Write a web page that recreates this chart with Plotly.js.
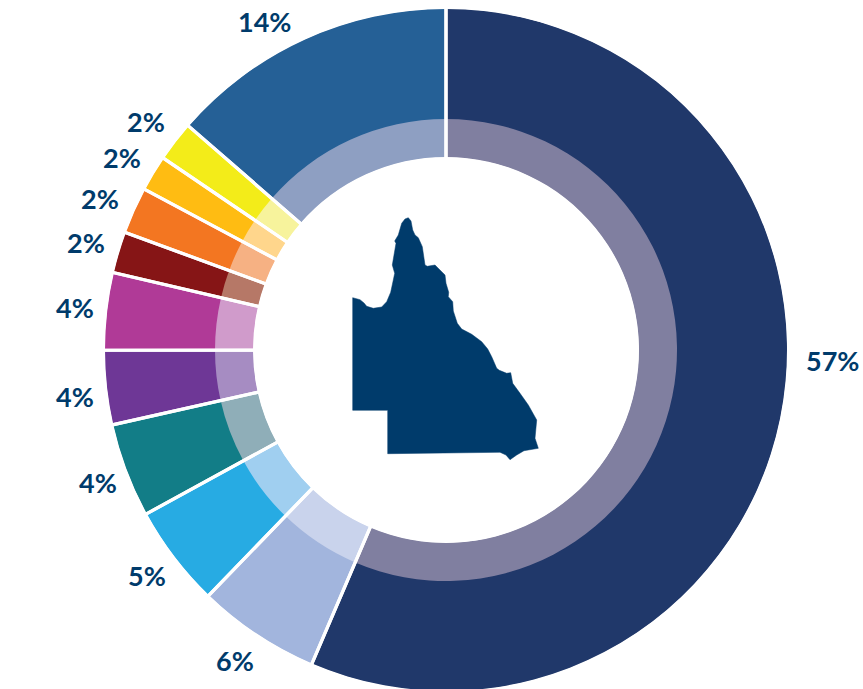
<!DOCTYPE html>
<html>
<head>
<meta charset="utf-8">
<script src="https://cdn.plot.ly/plotly-3.0.1.min.js"></script>
<style>html,body{margin:0;padding:0;background:#fff;overflow:hidden}#c{width:863px;height:700px}</style>
</head>
<body>
<div id="c"></div>
<script>
var categories = ['A','B','C','D','E','F','G','H','I','J','K'];
var values = [56.4, 5.8, 4.8, 4.45, 3.5, 3.65, 1.95, 2.2, 1.7, 1.9, 13.6];
var tickLabels = ['57%','6%','5%','4%','4%','4%','2%','2%','2%','2%','14%'];
var outerColors = ['#20386A','#A2B5DD','#27ABE3','#127D87','#6E3796','#B03A97','#861516','#F37621','#FFBC12','#F3EC19','#256096'];
var innerColors = ['#807FA0','#C9D3EC','#A0CFF0','#8FAEB8','#A68CC2','#D09BCB','#B67867','#F6B183','#FFD68C','#F7F39C','#8E9FC2'];
var labelX = [832,235,147,98,75,75,86,100,122,146,264];
var labelY = [360,660,575,482,396,307,242,198,157,121,21];
var stateX = [352.7,360,364,366.7,373.3,381.7,386.7,390.7,393.3,394.7,392.3,394.3,396,394.7,398.3,401.7,405,408.3,411,412.7,415,418.3,422.3,425,427.3,435,440,445,446,448.7,448.3,452.7,453.3,457.3,461.7,471.7,481.7,487.7,491.7,496.7,499.3,506.7,510.7,512.7,520,528.3,536.7,535,538.3,524,516.7,510,506,500,387.7,387.7,352.7,352.7];
var stateY = [297.7,299.7,303,306.3,308.3,307,301.7,292.3,280,273.3,265,251.7,243.3,241,235,223.3,219,217.7,221,230,235,237.7,246.7,265,266.3,265,270,275,283.3,292.3,296.7,301.7,311,323.3,329,334.3,341.7,349,356.7,368.3,370.3,373.3,372.7,383.3,393.3,405,420,438.3,448.3,450.7,455,459.7,455,452.3,453.7,410.3,410.3,297.7];

var W = 863, H = 700, CX = 446, CY = 350;
function dom(r){ return {x:[(CX-r)/W,(CX+r)/W], y:[1-(CY+r)/H,1-(CY-r)/H]}; }
function pie(r, hole, colors, line){
  return {type:'pie', values:values, labels:categories, sort:false, direction:'clockwise', rotation:0,
    domain:dom(r), hole:hole, textinfo:'none', hoverinfo:'skip', showlegend:false,
    marker:{colors:colors, line:line}};
}
var none = {width:0, color:'rgba(0,0,0,0)'};
var clear = categories.map(function(){return 'rgba(0,0,0,0)';});
var data = [
  {type:'scatter', mode:'lines', x:stateX, y:stateY, fill:'toself', fillcolor:'#003B6B',
   line:{color:'#003B6B',width:0.5}, hoverinfo:'skip', showlegend:false},
  pie(341, 225/341, outerColors, none),
  pie(231, 193/231, innerColors, none),
  pie(343, 191/343, clear, {width:3.2, color:'#ffffff'})
];
var layout = {
  width:W, height:H, margin:{l:0,r:0,t:0,b:0}, paper_bgcolor:'#fff', plot_bgcolor:'#fff', showlegend:false,
  xaxis:{visible:false, range:[0,W], fixedrange:true},
  yaxis:{visible:false, range:[H,0], fixedrange:true},
  annotations: tickLabels.map(function(t,i){
    return {x:labelX[i], y:labelY[i], xref:'x', yref:'y', text:t, showarrow:false, xanchor:'center', yanchor:'middle',
      font:{family:'Lato, sans-serif', size:27, color:'#003B6B', weight:700}};
  })
};
Plotly.newPlot('c', data, layout, {displayModeBar:false, staticPlot:true});
</script>
</body>
</html>
